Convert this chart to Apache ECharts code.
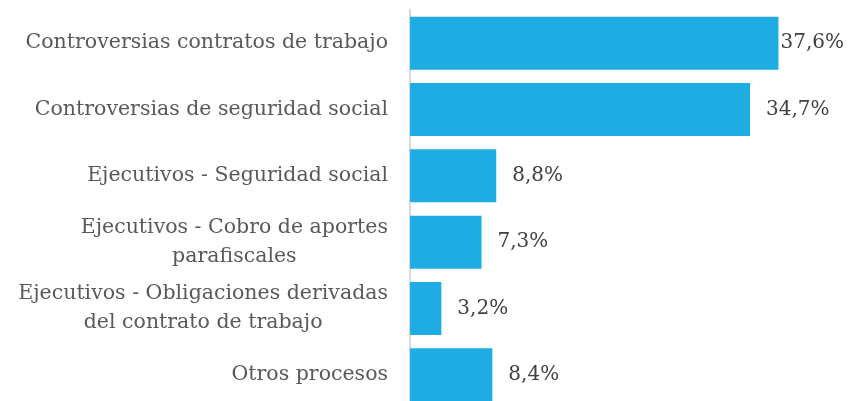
<!DOCTYPE html>
<html>
<head>
<meta charset="utf-8">
<script src="https://cdn.jsdelivr.net/npm/echarts@6/dist/echarts.min.js"></script>
<style>
  html, body { margin: 0; padding: 0; background: #fff; }
  #main { width: 848px; height: 401px; }
</style>
</head>
<body>
<div id="main"></div>
<script>
// categories top to bottom
var categories = [
    'Controversias contratos de trabajo',
    'Controversias de seguridad social',
    'Ejecutivos - Seguridad social',
    'Ejecutivos - Cobro de aportes\nparafiscales',
    'Ejecutivos - Obligaciones derivadas\ndel contrato de trabajo',
    'Otros procesos'
];
var values = [37.6, 34.7, 8.8, 7.3, 3.2, 8.4];

var chart = echarts.init(document.getElementById('main'));
var serif = '"DejaVu Serif", serif';

// first label sits close to its bar so it fits in the picture
var barData = values.map(function(v, i) {
    if (i === 0) {
        return { value: v, label: { distance: 2 } };
    }
    return v;
});

var option = {
    animation: false,
    grid: {
        left: 410,
        width: 392,
        top: 10,
        height: 398,
        containLabel: false,
        outerBoundsMode: 'none'
    },
    xAxis: {
        type: 'value',
        min: 0,
        max: 40,
        show: false
    },
    yAxis: {
        type: 'category',
        inverse: true,
        data: categories,
        axisLine: { show: true, lineStyle: { color: '#d9d9d9', width: 2 } },
        axisTick: { show: false },
        axisLabel: {
            margin: 22,
            fontFamily: serif,
            fontSize: 20.5,
            color: '#595959',
            lineHeight: 29,
            formatter: function(val) {
                return val.split('\n').map(function(s) { return '{c|' + s + '}'; }).join('\n');
            },
            rich: {
                c: { align: 'center', fontFamily: serif, fontSize: 20.5, color: '#595959', lineHeight: 29 }
            }
        }
    },
    series: [{
        type: 'bar',
        data: barData,
        barCategoryGap: '20%',
        itemStyle: { color: '#1eace3' },
        label: {
            show: true,
            position: 'right',
            distance: 16,
            fontFamily: serif,
            fontSize: 20,
            color: '#404040',
            formatter: function(p) {
                return p.value.toFixed(1).replace('.', ',') + '%';
            }
        }
    }]
};
chart.setOption(option);
</script>
</body>
</html>
